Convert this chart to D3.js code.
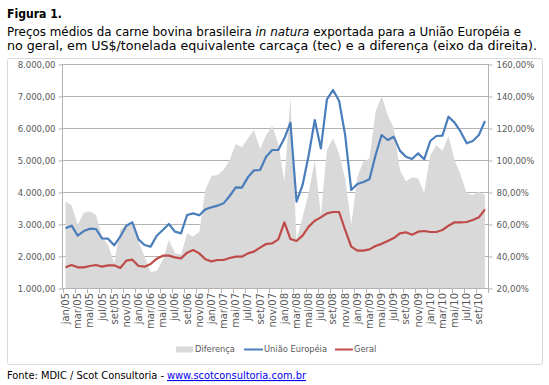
<!DOCTYPE html>
<html><head><meta charset="utf-8">
<script src="https://cdn.jsdelivr.net/npm/d3@7"></script>
<style>body{margin:0;background:#fff}svg{display:block}</style>
</head><body>
<svg id="c" width="549" height="385"></svg>
<script>
// ---- data ----
const monthNames = ["jan","fev","mar","abr","mai","jun","jul","ago","set","out","nov","dez"];
const years = ["05","06","07","08","09","10"];
const categories = [];
years.forEach(y => monthNames.forEach(m => categories.push(m + "/" + y)));
categories.length = 70; // jan/05 .. out/10

const uniaoEuropeia = [2865,2948,2635,2781,2854,2844,2552,2542,2333,2604,2948,3052,
  2521,2344,2292,2635,2813,3000,2760,2708,3281,3333,3271,3458,
  3521,3573,3646,3875,4146,4135,4458,4677,4688,5104,5313,5313,
  5677,6167,3698,4220,5150,6250,5365,6896,7188,6854,5781,4063,
  4250,4313,4396,5150,5781,5625,5729,5292,5104,5031,5208,5021,
  5594,5750,5760,6354,6167,5885,5521,5594,5781,6219];

const geral = [1646,1719,1646,1646,1687,1719,1667,1708,1708,1625,1854,1885,
  1687,1667,1750,1917,2010,2010,1958,1927,2104,2187,2083,1896,
  1833,1875,1875,1937,1979,1979,2083,2135,2260,2375,2396,2521,
  3052,2531,2469,2635,2917,3104,3208,3333,3375,3375,2813,2292,
  2167,2167,2208,2313,2380,2470,2560,2708,2740,2667,2760,2781,
  2750,2750,2813,2948,3052,3052,3063,3125,3208,3458];

const diferenca = [74,71.5,59.5,67,68,65.6,52,46.9,35.8,56.3,60,60,
  49,39.6,30,30.6,37.5,50,41.7,41,54.2,52.1,55.2,81.3,
  90,90.6,93.8,100,110,108,113.5,118.8,106.7,115.6,121.3,110,
  86.5,139.6,50,64.6,79.2,100,65.6,106.3,113.5,104,88.5,59.4,
  89.6,99,101,130,140,128,119.8,93.8,86.5,89.2,88.5,79.6,
  103,109.4,105.8,115,100,90.6,79.2,78.1,80.2,78.1];

const leftTicks = [1000,2000,3000,4000,5000,6000,7000,8000];
const rightTicks = [20,40,60,80,100,120,140,160];
const legendLabels = ["Diferença","União Européia","Geral"];

// ---- drawing ----
const svg = d3.select("#c");
const FONT = "DejaVu Sans, Verdana, sans-serif";
const L = 62.5, R = 488, T = 64, B = 288;
const x = d3.scalePoint().domain(categories).range([L, R]).padding(0.5);
const step = x.step();
const yL = d3.scaleLinear().domain([1000, 8000]).range([B, T]);
const yR = d3.scaleLinear().domain([20, 160]).range([B, T]);
const loc = d3.formatLocale({decimal: ",", thousands: ".", grouping: [3], currency: ["", ""]});
const fL = loc.format(",.2f");
const fR = v => loc.format(".2f")(v) + "%";

// titles
svg.append("text").attr("x", 7).attr("y", 18).attr("font-family", FONT)
  .attr("font-size", 12).attr("font-weight", "bold").attr("fill", "#000")
  .attr("textLength", 55).attr("lengthAdjust", "spacingAndGlyphs").text("Figura 1.");
const t1 = svg.append("text").attr("x", 7).attr("y", 36).attr("font-family", FONT)
  .attr("font-size", 12).attr("fill", "#000").attr("textLength", 514).attr("lengthAdjust", "spacingAndGlyphs");
t1.append("tspan").text("Preços médios da carne bovina brasileira ");
t1.append("tspan").attr("font-style", "italic").text("in natura");
t1.append("tspan").text(" exportada para a União Européia e");
svg.append("text").attr("x", 7).attr("y", 50).attr("font-family", FONT)
  .attr("font-size", 12).attr("fill", "#000").attr("textLength", 530).attr("lengthAdjust", "spacingAndGlyphs")
  .text("no geral, em US$/tonelada  equivalente  carcaça (tec) e a diferença (eixo da direita).");

// chart box
svg.append("rect").attr("x", 7.5).attr("y", 58.5).attr("width", 535).attr("height", 306)
  .attr("rx", 2).attr("fill", "#fff").attr("stroke", "#d9d9d9").attr("stroke-width", 1);

// gridlines
const gridC = "#b3b3b3";
svg.append("g").selectAll("line").data(leftTicks).join("line")
  .attr("x1", L).attr("x2", R)
  .attr("y1", d => Math.round(yL(d)) + 0.5).attr("y2", d => Math.round(yL(d)) + 0.5)
  .attr("stroke", gridC).attr("stroke-width", 1);

// area (secondary axis)
const area = d3.area().x((d, i) => x(categories[i])).y0(B + 0.5).y1(d => yR(d));
svg.append("path").datum(diferenca).attr("d", area).attr("fill", "#d9d9d9");

// axes lines
svg.append("line").attr("x1", L).attr("x2", L).attr("y1", T).attr("y2", B + 1).attr("stroke", gridC);
svg.append("line").attr("x1", R + 0.5).attr("x2", R + 0.5).attr("y1", T).attr("y2", B + 1).attr("stroke", gridC);
svg.append("line").attr("x1", L).attr("x2", R).attr("y1", B + 0.5).attr("y2", B + 0.5).attr("stroke", gridC);

// left axis
const gl = svg.append("g").attr("transform", `translate(${L},0.5)`)
  .call(d3.axisLeft(yL).tickValues(leftTicks).tickFormat(fL).tickSize(4).tickPadding(3));
gl.select(".domain").remove();
gl.selectAll("line").attr("stroke", gridC);
gl.selectAll("text").attr("font-family", FONT).attr("font-size", 8.5).attr("fill", "#595959");

// right axis
const gr = svg.append("g").attr("transform", `translate(${R + 0.5},0.5)`)
  .call(d3.axisRight(yR).tickValues(rightTicks).tickFormat(fR).tickSize(4).tickPadding(4));
gr.select(".domain").remove();
gr.selectAll("line").attr("stroke", gridC);
gr.selectAll("text").attr("font-family", FONT).attr("font-size", 8.5).attr("fill", "#595959");

// bottom ticks (every 2 categories, at boundaries)
const tickXs = categories.filter((c, i) => i % 2 === 0).map(c => x(c) - step / 2).concat([R]);
svg.append("g").selectAll("line").data(tickXs).join("line")
  .attr("x1", d => Math.round(d) + 0.5).attr("x2", d => Math.round(d) + 0.5)
  .attr("y1", B).attr("y2", B + 5).attr("stroke", gridC);

// bottom labels
svg.append("g").selectAll("text").data(categories.filter((c, i) => i % 2 === 0)).join("text")
  .attr("transform", d => `translate(${x(d)},${B + 5}) rotate(-90)`)
  .attr("text-anchor", "end").attr("dy", "0.35em")
  .attr("font-family", FONT).attr("font-size", 10).attr("fill", "#595959").text(d => d);

// lines
const lineL = d3.line().x((d, i) => x(categories[i])).y(d => yL(d));
svg.append("path").datum(geral).attr("d", lineL).attr("fill", "none")
  .attr("stroke", "#be4b48").attr("stroke-width", 2.2).attr("stroke-linejoin", "round");
svg.append("path").datum(uniaoEuropeia).attr("d", lineL).attr("fill", "none")
  .attr("stroke", "#4a7ebb").attr("stroke-width", 2.2).attr("stroke-linejoin", "round");

// legend
const ly = 349.5;
const lg = svg.append("g").attr("font-family", FONT).attr("font-size", 8.3).attr("fill", "#595959");
lg.append("rect").attr("x", 176).attr("y", ly - 3).attr("width", 17).attr("height", 6).attr("fill", "#d9d9d9");
lg.append("text").attr("x", 195).attr("y", ly).attr("dy", "0.35em").text(legendLabels[0]);
lg.append("line").attr("x1", 244).attr("x2", 263).attr("y1", ly).attr("y2", ly).attr("stroke", "#4a7ebb").attr("stroke-width", 2);
lg.append("text").attr("x", 264).attr("y", ly).attr("dy", "0.35em").text(legendLabels[1]);
lg.append("line").attr("x1", 335).attr("x2", 353).attr("y1", ly).attr("y2", ly).attr("stroke", "#be4b48").attr("stroke-width", 2);
lg.append("text").attr("x", 354).attr("y", ly).attr("dy", "0.35em").text(legendLabels[2]);

// footer
svg.append("text").attr("x", 7).attr("y", 379).attr("font-family", FONT)
  .attr("font-size", 11).attr("fill", "#000").attr("textLength", 157).attr("lengthAdjust", "spacingAndGlyphs")
  .text("Fonte: MDIC / Scot Consultoria -");
svg.append("text").attr("x", 167).attr("y", 379).attr("font-family", FONT)
  .attr("font-size", 11).attr("fill", "#0000ee").attr("text-decoration", "underline")
  .attr("textLength", 139).attr("lengthAdjust", "spacingAndGlyphs")
  .text("www.scotconsultoria.com.br");
</script>
</body></html>
